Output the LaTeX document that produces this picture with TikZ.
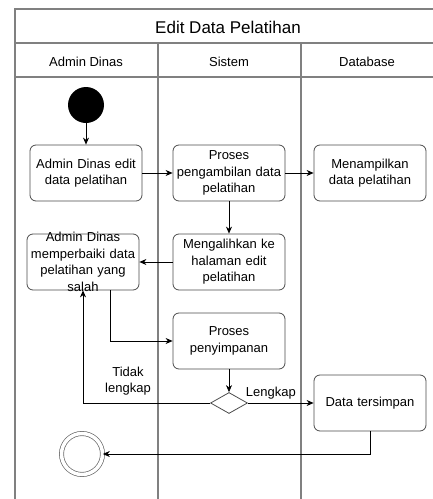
\documentclass[tikz,border=0pt]{standalone}
\usepackage{fontspec}
\setmainfont{Liberation Sans}
\usetikzlibrary{arrows.meta,shapes.geometric}

\begin{document}
\begin{tikzpicture}[x=1pt, y=-1pt,
      act/.style={draw=black!70, line width=0.8pt, rounded corners=6pt, fill=white,
                  minimum width=112pt, minimum height=56pt, text width=108pt,
                  align=center, inner sep=2pt, font=\fontsize{13}{16.5}\selectfont},
      arr/.style={-{Stealth[length=7pt,width=6pt]}, line width=0.7pt},
      lane/.style={draw=black!50, line width=1.2pt},
      lbl/.style={font=\fontsize{13}{16.5}\selectfont}
    ]
      \useasboundingbox (0,0) rectangle (433,499);

      % swimlanes
      \draw[lane] (15,499) -- (15,9) -- (433,9);
      \draw[lane] (15,43) -- (433,43);
      \draw[lane] (15,77) -- (433,77);
      \draw[lane] (158,43) -- (158,499);
      \draw[lane] (301,43) -- (301,499);
      \node[font=\fontsize{17}{20}\selectfont] (title) at (228,27) {Edit Data Pelatihan};
      \node[lbl] (hadmin) at (86,62) {Admin Dinas};
      \node[lbl] (hsistem) at (229,62) {Sistem};
      \node[lbl] (hdb) at (367,62) {Database};

      % activities
      \node[circle, fill=black, minimum size=36pt, inner sep=0] (start) at (86,105) {};
      \node[act] (edit) at (86,173) {Admin Dinas edit\\data pelatihan};
      \node[act] (ambil) at (229,173) {Proses\\pengambilan data\\pelatihan};
      \node[act] (tampil) at (370,173) {Menampilkan\\data pelatihan};
      \node[act] (alih) at (229,262) {Mengalihkan ke\\halaman edit\\pelatihan};
      \node[act, inner ysep=-2.5pt] (perbaiki) at (83,262)
        {Admin Dinas\\memperbaiki data\\pelatihan yang\\salah};
      \node[act] (simpan) at (229,341) {Proses\\penyimpanan};
      \node[diamond, draw=black!70, line width=0.8pt, minimum width=37pt,
            minimum height=21pt, inner sep=0] (cek) at (229,403) {};
      \node[act] (tersimpan) at (370,403) {Data tersimpan};
      \node[circle, draw=black!60, double, double distance=3.5pt, line width=0.7pt,
            minimum size=41pt, inner sep=0] (end) at (82,454) {};

      % flows
      \draw[arr] (start) -- (edit);
      \draw[arr] (edit) -- (ambil);
      \draw[arr] (ambil) -- (tampil);
      \draw[arr] (ambil) -- (alih);
      \draw[arr] (alih) -- (perbaiki);
      \draw[arr] ([xshift=27pt]perbaiki.south) |- (simpan);
      \draw[arr] (simpan) -- (cek);
      \draw[arr] (cek.west) -| (perbaiki.south);
      \node[lbl, align=center] (tidak) at (128,381) {Tidak\\lengkap};
      \draw[arr] (cek) -- node[lbl, above, pos=0.35] (lengkap) {Lengkap} (tersimpan);
      \draw[arr] (tersimpan.south) |- (end);
    \end{tikzpicture}
\end{document}
